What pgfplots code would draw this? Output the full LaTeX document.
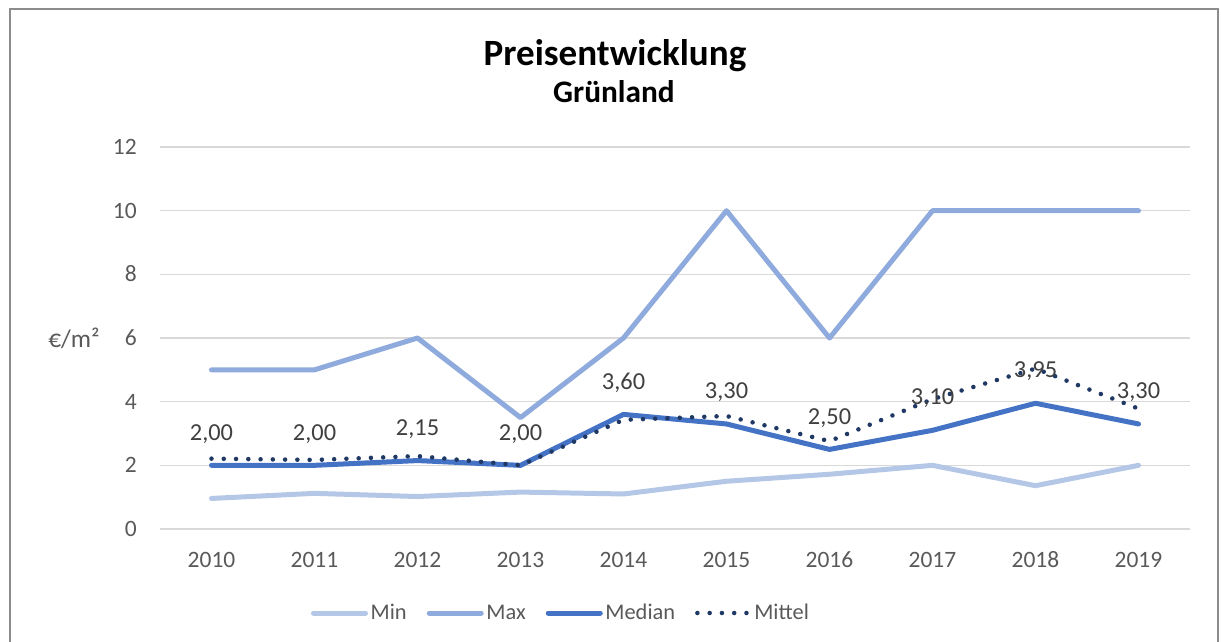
\documentclass[border=0pt]{standalone}
\usepackage{fontspec}
\setmainfont{Carlito}
\usepackage{pgfplots}
\pgfplotsset{compat=1.18}
\definecolor{minblue}{HTML}{B4C7E7}
\definecolor{maxblue}{HTML}{8FAADC}
\definecolor{medblue}{HTML}{4472C4}
\definecolor{mitnavy}{HTML}{203864}
\definecolor{txtgray}{HTML}{595959}
\definecolor{lblgray}{HTML}{404040}
\definecolor{gridgray}{HTML}{D9D9D9}
\definecolor{framegray}{HTML}{8C8C8C}

\begin{document}
\begin{tikzpicture}[x=0.75pt,y=0.75pt] % 1 unit = 1 px of the reference
\path[use as bounding box] (0,0) rectangle (1221,-642);
\draw[framegray, line width=1.5pt] (10,-700) -- (10,-9) -- (1218,-9) -- (1218,-700);
\node[anchor=base, inner sep=0pt, font=\fontsize{27.8pt}{32pt}\selectfont\bfseries] at (615,-65) {Preisentwicklung};
\node[anchor=base, inner sep=0pt, font=\fontsize{23.5pt}{28pt}\selectfont\bfseries] at (614,-103) {Grünland};
\node[anchor=base west, inner sep=0pt, text=txtgray, font=\fontsize{19pt}{22pt}\selectfont] at (48,-347) {€/m²};

\begin{axis}[
    at={(120pt,-396.75pt)}, anchor=south west,
    scale only axis, width=772.5pt, height=286.5pt,
    xmin=2009.5, xmax=2019.5, ymin=0, ymax=12,
    xtick={2010,...,2019}, ytick={0,2,...,12},
    axis line style={draw=none}, major tick length=0pt,
    ymajorgrids, grid style={gridgray, line width=1.1pt},
    /pgf/number format/assume math mode=true,
    /pgf/number format/1000 sep={},
    tick label style={text=txtgray, font=\fontsize{17.6pt}{21pt}\selectfont},
    xticklabel style={anchor=base, inner sep=0pt, yshift=-28.5pt},
    yticklabel style={anchor=base east, inner sep=0pt, xshift=-17.25pt, yshift=-5.6pt},
    clip=false,
    legend columns=4,
    legend style={draw=none, fill=none, inner sep=0pt, outer sep=0pt,
        at={(0.1466,-0.2199)}, anchor=west, text=txtgray,
        font=\fontsize{16.8pt}{20pt}\selectfont,
        /tikz/every even column/.append style={column sep=13pt}},
    legend image code/.code={\draw[#1] (0pt,0pt) -- (39pt,0pt);},
]
\addplot[minblue, line width=3.75pt, line join=round, line cap=round] coordinates {
    (2010,0.96) (2011,1.12) (2012,1.02) (2013,1.16) (2014,1.10)
    (2015,1.50) (2016,1.72) (2017,2.00) (2018,1.36) (2019,2.00)};
\addlegendentry{Min}
\addplot[maxblue, line width=3.75pt, line join=round, line cap=round] coordinates {
    (2010,5) (2011,5) (2012,6) (2013,3.5) (2014,6)
    (2015,10) (2016,6) (2017,10) (2018,10) (2019,10)};
\addlegendentry{Max}
\addplot[medblue, line width=3.75pt, line join=round, line cap=round,
    nodes near coords={\pgfmathprintnumber[fixed,fixed zerofill,precision=2,use comma]{\pgfplotspointmeta}},
    nodes near coords style={anchor=base, yshift=19pt, inner sep=0pt, text=lblgray,
        font=\fontsize{18.3pt}{22pt}\selectfont}] coordinates {
    (2010,2.00) (2011,2.00) (2012,2.15) (2013,2.00) (2014,3.60)
    (2015,3.30) (2016,2.50) (2017,3.10) (2018,3.95) (2019,3.30)};
\addlegendentry{Median}
\addplot[mitnavy, line width=3.4pt, line cap=round, dash pattern=on 0pt off 9.2pt] coordinates {
    (2010,2.21) (2011,2.17) (2012,2.29) (2013,2.00) (2014,3.43)
    (2015,3.55) (2016,2.76) (2017,4.08) (2018,5.04) (2019,3.78)};
\addlegendentry{Mittel}
\end{axis}
\end{tikzpicture}
\end{document}
